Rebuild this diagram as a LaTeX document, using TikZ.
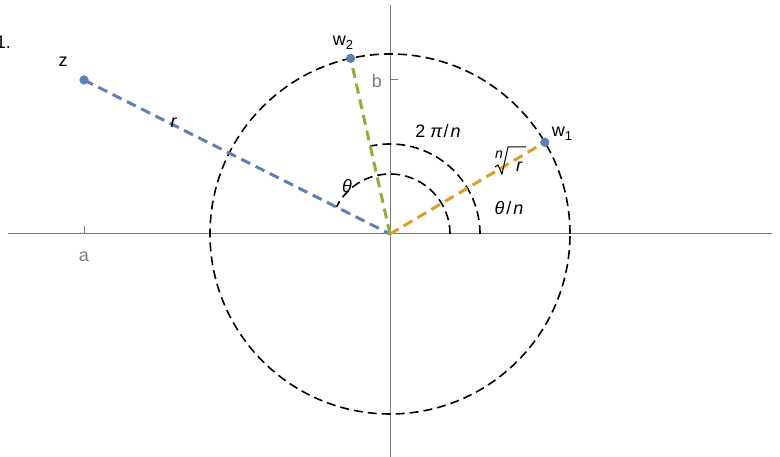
\documentclass[tikz,border=0pt]{standalone}
\usepackage{fontspec}
\setmainfont{Liberation Sans}
\usetikzlibrary{calc}
\definecolor{mblue}{HTML}{5E81B5}
\definecolor{morange}{HTML}{E19C24}
\definecolor{mgreen}{HTML}{8FB032}
\definecolor{axgray}{HTML}{7A7A7A}
\newcommand{\mysub}[1]{\raisebox{-4pt}{\fontsize{13}{14}\selectfont #1}}
\begin{document}
\begin{tikzpicture}[x=1pt,y=1pt,
  axis/.style={draw=axgray,line width=1pt},
  blackdash/.style={draw=black,line width=1.6pt,dash pattern=on 9pt off 5pt},
  coldash/.style={line width=3pt,dash pattern=on 10pt off 6pt},
  pt/.style={circle,fill=mblue,inner sep=0pt,minimum size=9pt},
  lbl/.style={inner sep=0pt,font=\fontsize{18}{20}\selectfont},
  smlbl/.style={inner sep=0pt,font=\fontsize{14}{16}\selectfont\itshape},
  glbl/.style={lbl,text=axgray}]
\useasboundingbox (0,0) rectangle (780,457);
\coordinate (O) at (390,223);
\coordinate (Z) at (84,377);
\coordinate (W1) at ($(O)+(30.66:180)$);
\coordinate (W2) at ($(O)+(102.66:180)$);
\coordinate (XL) at (8,223);
\coordinate (XR) at (772,223);
\coordinate (YB) at (390,0);
\coordinate (YT) at (390,452);
\coordinate (TA) at (84,223);
\coordinate (TA2) at (84,231);
\coordinate (TB) at (390,377);
\coordinate (TB2) at (398,377);
% axes
\draw[axis] (XL) -- (XR);
\draw[axis] (YB) -- (YT);
\draw[axis] (TA) -- (TA2);
\draw[axis] (TB) -- (TB2);
% circle and arcs
\draw[blackdash] (O) circle[radius=180];
\draw[blackdash] ($(O)+(60,0)$) arc[start angle=0,end angle=153.3,radius=60];
\draw[blackdash] ($(O)+(90,0)$) arc[start angle=0,end angle=102.66,radius=90];
% points
\node[pt] (z) at (Z) {};
\node[pt] (w1) at (W1) {};
\node[pt] (w2) at (W2) {};
\node[inner sep=0pt,minimum size=0pt] (o) at (O) {};
% colored lines
\draw[coldash,mblue] (z.center) -- (o.center);
\draw[coldash,morange] (o.center) -- (w1.center);
\draw[coldash,mgreen] (o.center) -- (w2.center);
\fill[mblue] (Z) circle[radius=4.5];
\fill[mblue] (W1) circle[radius=4.5];
\fill[mblue] (W2) circle[radius=4.5];
% labels
\node[lbl] (lz) at (63,395) {z};
\node[lbl] (lw2) at (343,414) {w\mysub{2}};
\node[lbl] (lw1) at (562,323) {w\mysub{1}};
\node[lbl] (lth) at (347,271) {\textit{θ}};
\node[lbl] (ltpn) at (438,326) {2\hspace{5pt}\textit{π}\hspace{1pt}/\hspace{2pt}\textit{n}};
\node[lbl] (lthn) at (509,249) {\textit{θ}\hspace{2pt}/\hspace{2pt}\textit{n}};
% n-th root drawn by hand
\node[smlbl] (rootn) at (499,302) {n};
\node[lbl,font=\fontsize{18}{20}\selectfont\itshape] (rootr) at (519,290) {r};
\draw[line width=1pt,line join=miter] (495,290) -- (498,292) -- (502,283) -- (508,310) -- (526,310);
\node[lbl] (lr) at (174,334) {\textit{r}};
\node[glbl] (la) at (84,200) {a};
\node[glbl] (lb) at (377,376) {b};
\node[lbl,anchor=east] (one) at (11,415) {1.};
\end{tikzpicture}
\end{document}
